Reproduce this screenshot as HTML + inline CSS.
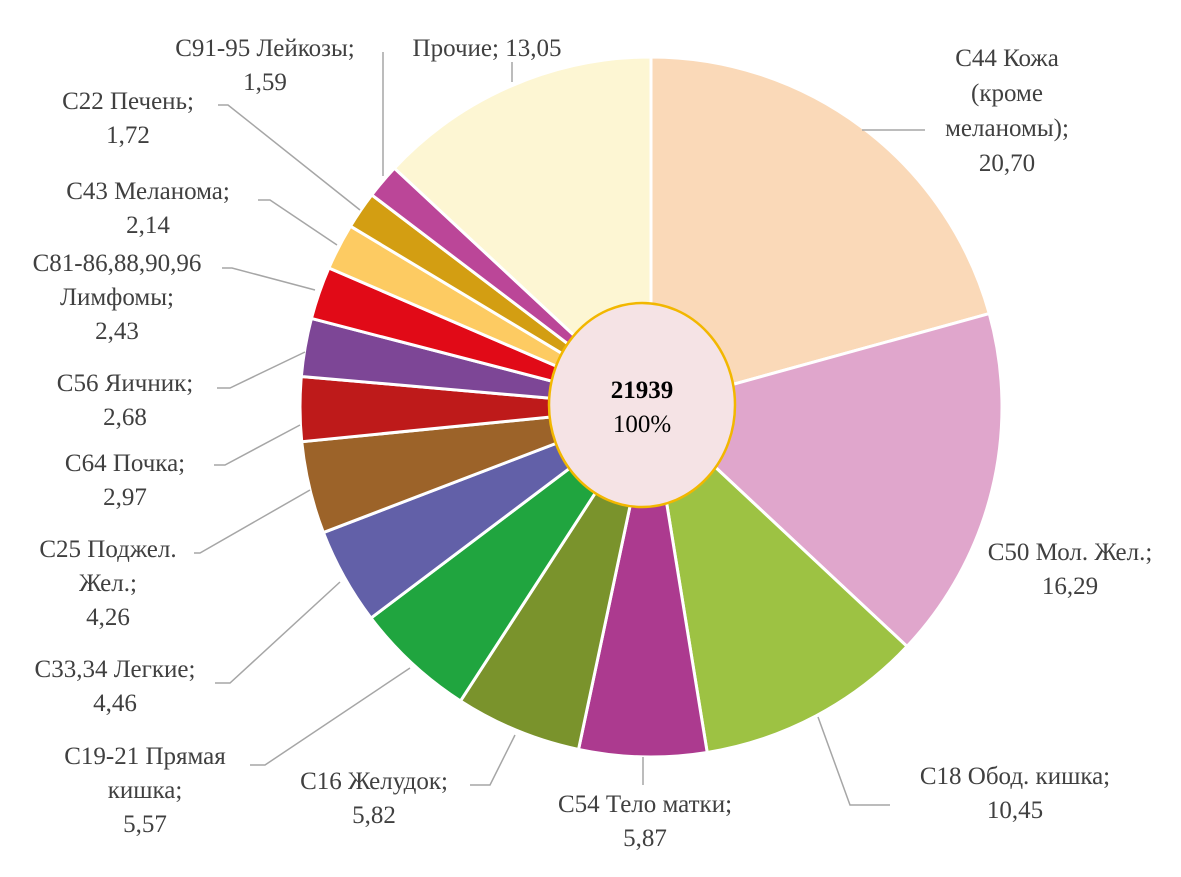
<!DOCTYPE html>
<html><head><meta charset="utf-8"><style>
body{margin:0;background:#fff;}
svg text{font-family:"Liberation Serif",serif;font-size:25px;fill:#404040;}
</style></head><body>
<svg id="chart" width="1181" height="872">
<g id="slices"></g><g id="leaders"></g><g id="labels"></g>
<ellipse cx="642" cy="405" rx="93" ry="102" fill="#F5E3E5" stroke="#F2B700" stroke-width="2.5"/>
<text x="642" y="398" text-anchor="middle" style="font-weight:bold;fill:#000">21939</text>
<text x="642" y="432" text-anchor="middle" style="fill:#000">100%</text>
</svg>
<script>
const categories=["C44 Кожа (кроме меланомы)","C50 Мол. Жел.","C18 Обод. кишка","C54 Тело матки","C16 Желудок","C19-21 Прямая кишка","C33,34 Легкие","C25 Поджел. Жел.","C64 Почка","C56 Яичник","C81-86,88,90,96 Лимфомы","C43 Меланома","C22 Печень","C91-95 Лейкозы","Прочие"];
const values=[20.70,16.29,10.45,5.87,5.82,5.57,4.46,4.26,2.97,2.68,2.43,2.14,1.72,1.59,13.05];
const labelLines=[["C44 Кожа","(кроме","меланомы);"],["C50 Мол. Жел.;"],["C18 Обод. кишка;"],["C54 Тело матки;"],["C16 Желудок;"],["C19-21 Прямая","кишка;"],["C33,34 Легкие;"],["C25 Поджел.","Жел.;"],["C64 Почка;"],["C56 Яичник;"],["C81-86,88,90,96","Лимфомы;"],["C43 Меланома;"],["C22 Печень;"],["C91-95 Лейкозы;"],["Прочие; 13,05"]];
const colors=["#FAD9B8","#E0A6CC","#9DC243","#AC3A8F","#7A932C","#20A53F","#6260A8","#9C6329","#BE1A1A","#7D4696","#E10A17","#FDCB62","#D39E12","#BB4698","#FDF6D3"];
// layout (not data)
const CX=651,CY=407,RX=351,RY=350;
const layout=[[1007,57,[[862,130],[925,130]]],[1070,551,null],[1015,775,[[818,717],[850,805],[890,805]]],[645,803,[[643,757],[643,785]]],[374,780,[[515,735],[490,785],[470,785]]],[145,755,[[410,668],[265,765],[250,765]]],[115,668,[[340,582],[230,683],[215,683]]],[108,548,[[310,490],[200,553],[194,553]]],[125,462,[[300,425],[225,465],[214,465]]],[125,382,[[305,352],[230,388],[217,388]]],[117,262,[[315,290],[232,268],[222,268]]],[148,190,[[337,245],[270,200],[258,200]]],[128,100,[[360,210],[228,105],[218,105]]],[265,47,[[383,176],[383,52]]],[487,47,[[512,82],[512,62]]]];
const NS="http://www.w3.org/2000/svg";
const total=values.reduce((a,b)=>a+b,0);
function pt(a){return [CX+RX*Math.sin(a),CY-RY*Math.cos(a)];}
let ang=0;
const gS=document.getElementById('slices'),gL=document.getElementById('leaders'),gT=document.getElementById('labels');
values.forEach((v,i)=>{
  const a0=ang,a1=ang+v/total*2*Math.PI;ang=a1;
  const p0=pt(a0),p1=pt(a1);
  const p=document.createElementNS(NS,'path');
  p.setAttribute('d',`M${CX},${CY}L${p0[0]},${p0[1]}A${RX},${RY} 0 ${a1-a0>Math.PI?1:0} 1 ${p1[0]},${p1[1]}Z`);
  p.setAttribute('fill',colors[i]);p.setAttribute('stroke','#fff');p.setAttribute('stroke-width','3');
  
  
  gS.appendChild(p);
  const L=layout[i];
  if(L[2]){const pl=document.createElementNS(NS,'polyline');
    pl.setAttribute('points',L[2].map(q=>q.join(',')).join(' '));
    pl.setAttribute('fill','none');pl.setAttribute('stroke','#A6A6A6');pl.setAttribute('stroke-width','1.5');
    
    
    gL.appendChild(pl);}
  const lines=labelLines[i].slice();
  if(i!==14) lines.push(v.toFixed(2).replace('.',','));
  const t=document.createElementNS(NS,'text');
  t.setAttribute('text-anchor','middle');
  
  
  const step=i===0?35:34;
  lines.forEach((s,k)=>{const ts=document.createElementNS(NS,'tspan');ts.setAttribute('x',L[0]);ts.setAttribute('y',L[1]+9+k*step);ts.textContent=s;t.appendChild(ts);});
  gT.appendChild(t);
});
</script>
</body></html>
